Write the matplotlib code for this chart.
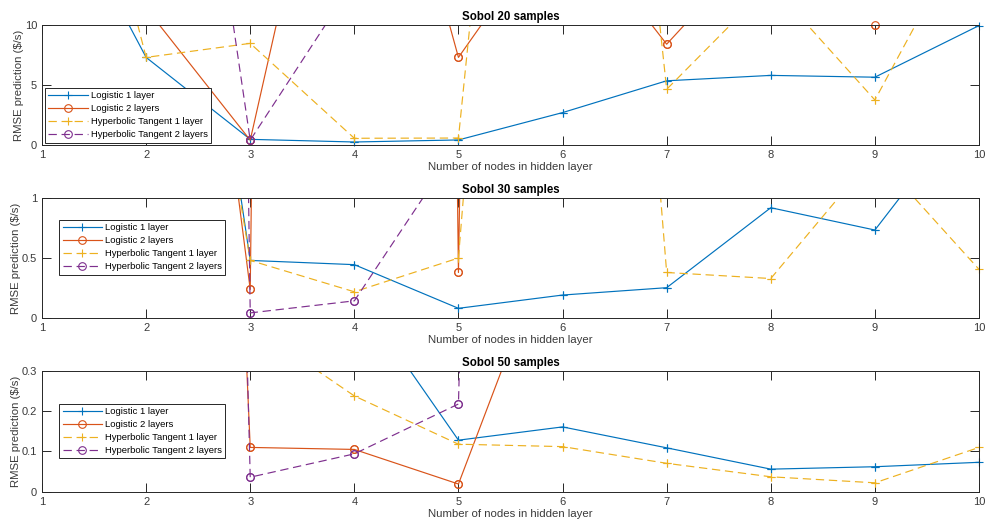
import numpy as np
import matplotlib
matplotlib.use("Agg")
import matplotlib.pyplot as plt

plt.rcParams["font.family"] = ["Liberation Sans", "DejaVu Sans"]
plt.rcParams["lines.scale_dashes"] = False

nan = np.nan
nodes = np.arange(1, 11)

series_labels = [
    "Logistic 1 layer",
    "Logistic 2 layers",
    "Hyperbolic Tangent 1 layer",
    "Hyperbolic Tangent 2 layers",
]

# RMSE per network size; points far above the y-limit only set the slope of the
# segments that come back into view, NaN where nothing reaches the plotted range
logistic1_20 = [23.7, 7.3, 0.47, 0.25, 0.42, 2.7, 5.35, 5.8, 5.65, 9.95]
logistic2_20 = [nan, 11.4, 0.4, 38.8, 7.3, 19.6, 8.4, 17.8, 9.98, nan]
tanh1_20 = [41.0, 7.3, 8.47, 0.56, 0.58, 86.0, 4.64, 13.4, 3.75, 19.8]
tanh2_20 = [nan, 59.4, 0.4, 13.7, nan, nan, nan, nan, nan, nan]

logistic1_30 = [nan, 6.3, 0.48, 0.445, 0.083, 0.193, 0.254, 0.917, 0.732, 1.85]
logistic2_30 = [nan, 6.97, 0.24, 70.0, 0.38, 55.0, nan, nan, nan, nan]
tanh1_30 = [nan, 5.7, 0.48, 0.22, 0.5, 11.1, 0.38, 0.33, 1.36, 0.406]
tanh2_30 = [nan, 60.0, 0.045, 0.145, 1.44, nan, nan, nan, nan, nan]

logistic1_50 = [nan, nan, nan, 0.50, 0.128, 0.161, 0.109, 0.056, 0.062, 0.073]
logistic2_50 = [nan, 6.0, 0.11, 0.105, 0.019, 0.70, nan, nan, nan, nan]
tanh1_50 = [nan, nan, 0.415, 0.238, 0.118, 0.112, 0.0705, 0.037, 0.022, 0.110]
tanh2_50 = [nan, 10.0, 0.036, 0.094, 0.218, 10.0, nan, nan, nan, nan]

colors = ["#0072BD", "#D95319", "#EDB120", "#7E2F8E"]
linestyles = ["-", "-", (0, (6, 3.4)), (0, (6, 3.4))]
markers = ["+", "o", "+", "o"]
marker_sizes = [6, 5.5, 6, 5.5]
axis_color = "#262626"


def draw_panel(ax, series, ylim, yticks, yticklabels, title, legend_anchor):
    for values, label, color, ls, marker, ms in zip(
        series, series_labels, colors, linestyles, markers, marker_sizes
    ):
        y = np.asarray(values, dtype=float)
        style = dict(color=color, marker=marker, ms=ms, mfc="none", mew=0.8)
        ax.plot(nodes, y, ls=ls, lw=0.85, label=label, **style)
        # markers sitting on the frame are drawn whole
        inside = (y >= ylim[0]) & (y <= ylim[1])
        ax.plot(nodes[inside], y[inside], ls="none", clip_on=False, **style)

    ax.set_xlim(1, 10)
    ax.set_ylim(*ylim)
    ax.set_xticks(nodes)
    ax.set_yticks(yticks)
    ax.set_yticklabels(yticklabels)
    ax.tick_params(direction="in", top=True, right=True, length=6.3, width=0.7,
                   color=axis_color, labelcolor="#3a3a3a", labelsize=8, pad=3.5)
    for spine in ax.spines.values():
        spine.set_color(axis_color)
        spine.set_linewidth(0.7)
    ax.set_title(title, fontsize=8.3, fontweight="bold", pad=3.5, color="black")
    ax.set_xlabel("Number of nodes in hidden layer", fontsize=8.2, color="#3a3a3a", labelpad=1.5)
    ax.set_ylabel(r"RMSE prediction (\$/s)", fontsize=8.2, color="#3a3a3a", labelpad=0.5)

    leg = ax.legend(loc="upper left", bbox_to_anchor=legend_anchor, borderaxespad=0,
                    fontsize=6.8, handlelength=4.2, handletextpad=0.3, borderpad=0.35,
                    labelspacing=0.42, fancybox=False, framealpha=1, edgecolor=axis_color)
    leg.get_frame().set_linewidth(0.7)


fig = plt.figure(figsize=(9.86, 5.24), dpi=100)
ax1 = fig.add_axes([0.0426, 0.7233, 0.9503, 0.229])
ax2 = fig.add_axes([0.0426, 0.3925, 0.9503, 0.2302])
ax3 = fig.add_axes([0.0426, 0.0617, 0.9503, 0.2303])

draw_panel(ax1, [logistic1_20, logistic2_20, tanh1_20, tanh2_20],
           (0, 10), [0, 5, 10], ["0", "5", "10"], "Sobol 20 samples", (0.003, 0.475))
draw_panel(ax2, [logistic1_30, logistic2_30, tanh1_30, tanh2_30],
           (0, 1), [0, 0.5, 1], ["0", "0.5", "1"], "Sobol 30 samples", (0.0185, 0.815))
draw_panel(ax3, [logistic1_50, logistic2_50, tanh1_50, tanh2_50],
           (0, 0.3), [0, 0.1, 0.2, 0.3], ["0", "0.1", "0.2", "0.3"], "Sobol 50 samples",
           (0.0185, 0.729))

fig.savefig("out.png", dpi=100, facecolor="white")
